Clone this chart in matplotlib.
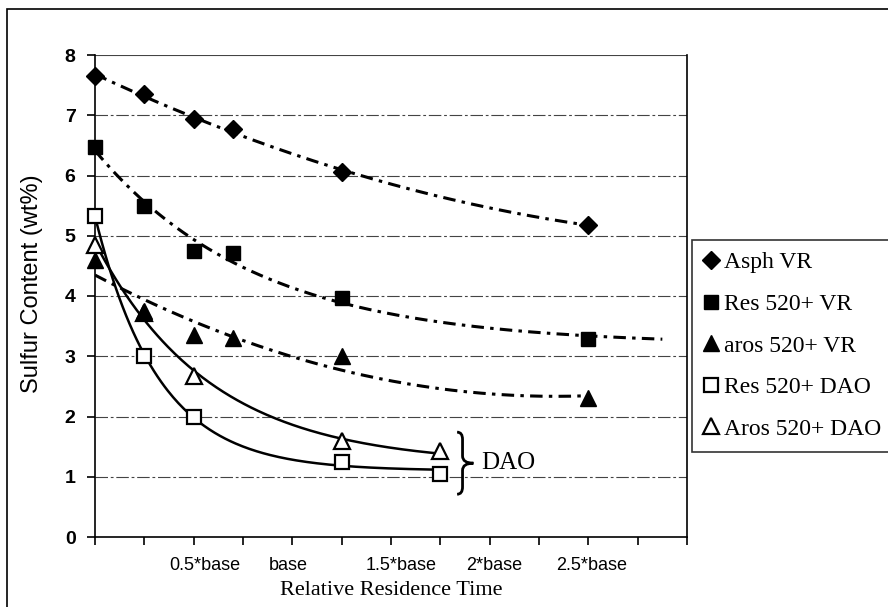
import numpy as np
import matplotlib
matplotlib.use("Agg")
import matplotlib.pyplot as plt
from matplotlib.lines import Line2D
from matplotlib.patches import Rectangle, PathPatch
from matplotlib.path import Path

plt.rcParams["lines.scale_dashes"] = False

# residence time in axis units (base = 4)
x_vr = [0, 1, 2, 2.8, 5, 10]
asph_vr = [7.65, 7.35, 6.93, 6.78, 6.05, 5.18]
res_vr = [6.48, 5.50, 4.75, 4.72, 3.97, 3.28]
aros_vr = [4.60, 3.75, 3.35, 3.30, 3.00, 2.30]

x_dao = [0, 1, 2, 5, 7]
res_dao = [5.33, 3.00, 2.00, 1.25, 1.05]
aros_dao = [4.85, 3.72, 2.68, 1.60, 1.42]

tick_labels = ["0.5*base", "base", "1.5*base", "2*base", "2.5*base"]
tick_label_pos = [2.23, 3.91, 6.2, 8.09, 10.07]

legend_labels = ["Asph VR", "Res 520+ VR", "aros 520+ VR",
                 "Res 520+ DAO", "Aros 520+ DAO"]


def quad_trend(x, y, x_end):
    coef = np.polyfit(x, y, 2)
    xs = np.linspace(0, x_end, 200)
    return xs, np.polyval(coef, xs)


def decay_trend(x, y, x_end):
    # y = c + a*exp(-b*x), b by grid search, a and c by least squares
    x = np.asarray(x, float)
    y = np.asarray(y, float)
    best = None
    for b in np.linspace(0.05, 3, 600):
        A = np.column_stack([np.exp(-b * x), np.ones_like(x)])
        sol, *_ = np.linalg.lstsq(A, y, rcond=None)
        err = np.sum((A @ sol - y) ** 2)
        if best is None or err < best[0]:
            best = (err, b, sol)
    _, b, (a, c) = best
    xs = np.linspace(0, x_end, 200)
    return xs, c + a * np.exp(-b * xs)


fig = plt.figure(figsize=(8.88, 6.07), dpi=100)
ax = fig.add_axes([95 / 888, 70 / 607, 592 / 888, 482 / 607])

ax.set_xlim(0, 12)
ax.set_ylim(0, 8)

# horizontal gridlines
for yv in range(1, 9):
    ax.axhline(yv, color="#444444", lw=0.8,
               ls="-" if yv == 8 else (0, (9, 2, 2, 2)), zorder=1)

dashdot = (0, (9, 4.5, 2.5, 4.5))
xs, ys = quad_trend(x_vr, asph_vr, 10)
ax.plot(xs, ys, color="black", lw=2.2, ls=dashdot, zorder=2)
xs, ys = decay_trend(x_vr, res_vr, 11.5)
ax.plot(xs, ys, color="black", lw=2.2, ls=dashdot, zorder=2)
xs, ys = quad_trend(x_vr, aros_vr, 10)
ax.plot(xs, ys, color="black", lw=2.2, ls=dashdot, zorder=2)

xs, ys = decay_trend(x_dao, res_dao, 7)
ax.plot(xs, ys, color="black", lw=1.8, zorder=2)
xs, ys = decay_trend(x_dao, aros_dao, 7)
ax.plot(xs, ys, color="black", lw=1.8, zorder=2)

ax.plot(x_dao, res_dao, ls="none", marker="s", ms=10, mfc="white",
        mec="black", mew=1.6, zorder=3, clip_on=False)
ax.plot(x_dao, aros_dao, ls="none", marker="^", ms=11, mfc="white",
        mec="black", mew=1.6, zorder=3, clip_on=False)
ax.plot(x_vr, asph_vr, ls="none", marker="D", ms=9, color="black",
        zorder=4, clip_on=False)
ax.plot(x_vr, res_vr, ls="none", marker="s", ms=10, color="black",
        zorder=4, clip_on=False)
ax.plot(x_vr, aros_vr, ls="none", marker="^", ms=11, color="black",
        zorder=4, clip_on=False)

# axes styling
for side in ["left", "bottom", "right"]:
    ax.spines[side].set_linewidth(1.2)
ax.spines["top"].set_visible(False)
ax.set_xticks(np.arange(0, 13, 1))
ax.set_xticklabels([])
ax.set_yticks(np.arange(0, 9, 1))
ax.tick_params(axis="x", direction="out", length=6, width=1.2)
ax.tick_params(axis="y", direction="out", length=6, width=1.2, pad=8)
for lab in ax.get_yticklabels():
    lab.set_fontfamily("Liberation Sans")
    lab.set_fontweight("bold")
    lab.set_fontsize(14)

for pos, lab in zip(tick_label_pos, tick_labels):
    ax.text(pos, -0.47, lab, ha="center", va="center", fontsize=13,
            family="Liberation Sans", transform=ax.transData)

ax.set_xlabel("Relative Residence Time", family="Liberation Serif",
              fontsize=16, labelpad=22)
ax.set_ylabel("Sulfur Content (wt%)", family="Liberation Sans",
              fontsize=17)
ax.yaxis.set_label_coords(-0.088, 0.525)

# brace grouping the DAO curves
bx = x_dao[-1] + 0.45
y_lo, y_hi = 0.71, 1.74
y_mid = (y_lo + y_hi) / 2
w = 0.22
verts = [
    (bx - w / 2, y_hi), (bx, y_hi), (bx, y_hi - 0.12),
    (bx, y_mid + 0.12), (bx, y_mid), (bx + w, y_mid),
    (bx, y_mid), (bx, y_mid - 0.12),
    (bx, y_lo + 0.12), (bx, y_lo), (bx - w / 2, y_lo),
]
codes = [Path.MOVETO, Path.CURVE3, Path.CURVE3,
         Path.LINETO, Path.CURVE3, Path.CURVE3,
         Path.CURVE3, Path.CURVE3,
         Path.LINETO, Path.CURVE3, Path.CURVE3]
ax.add_patch(PathPatch(Path(verts, codes), fill=False, lw=2, ec="black",
                       zorder=3))
ax.text(bx + w + 0.15, y_mid, "DAO", family="Liberation Serif", fontsize=18,
        ha="left", va="center")

# legend
handles = [
    Line2D([], [], ls="none", marker="D", ms=9, color="black"),
    Line2D([], [], ls="none", marker="s", ms=10, color="black"),
    Line2D([], [], ls="none", marker="^", ms=11, color="black"),
    Line2D([], [], ls="none", marker="s", ms=10, mfc="white", mec="black", mew=1.6),
    Line2D([], [], ls="none", marker="^", ms=11, mfc="white", mec="black", mew=1.6),
]
leg = fig.legend(handles, legend_labels, loc="upper left",
                 bbox_to_anchor=(692 / 888, (607 - 240) / 607),
                 borderaxespad=0, frameon=True, fancybox=False,
                 handlelength=0.6, handletextpad=0.25, labelspacing=0.85,
                 borderpad=0.5, prop={"family": "Liberation Serif", "size": 17})
leg.get_frame().set_edgecolor("black")
leg.get_frame().set_linewidth(1.2)

# outer chart border
fig.patches.append(Rectangle((7 / 888, -0.2), 1.2, 1.2 - 9 / 607,
                             transform=fig.transFigure, fill=False,
                             ec="black", lw=1.2))

fig.savefig("out.png", dpi=100)
